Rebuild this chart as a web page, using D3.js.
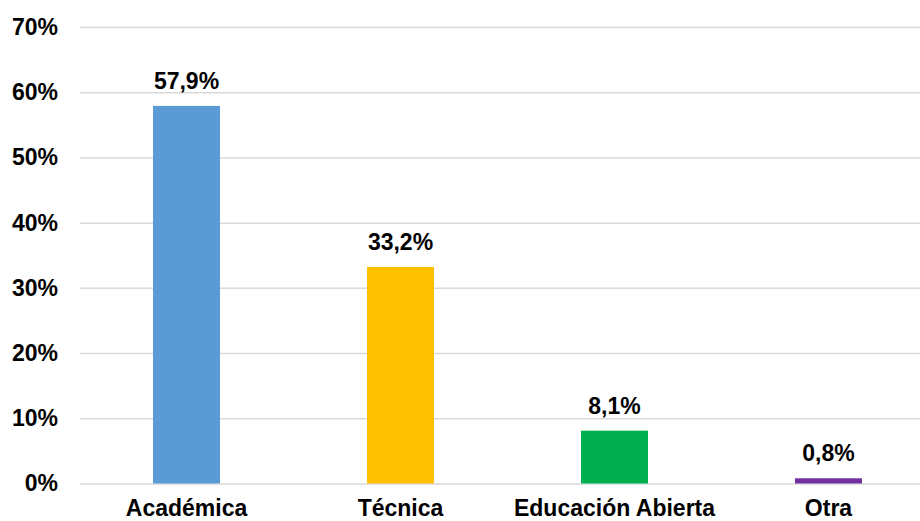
<!DOCTYPE html>
<html>
<head>
<meta charset="utf-8">
<script src="https://cdn.jsdelivr.net/npm/d3@7"></script>
<style>
  body { margin: 0; background: #fff; }
  text { font-family: "Liberation Sans", Arial, sans-serif; font-weight: bold; fill: #000; }
</style>
</head>
<body>
<div id="chart"></div>
<script>
const categories = ['Académica', 'Técnica', 'Educación Abierta', 'Otra'];
const values = [57.9, 33.2, 8.1, 0.8];
const labels = ['57,9%', '33,2%', '8,1%', '0,8%'];
const colors = ['#5B9BD5', '#FFC000', '#00B050', '#7030A0'];
const yTicks = [0, 10, 20, 30, 40, 50, 60, 70];

const width = 920;
const height = 521;
const left = 80, right = 920;
const y0 = 483.5, yTop = 27;

const svg = d3.select('#chart').append('svg')
  .attr('width', width)
  .attr('height', height);

const x = d3.scaleBand()
  .domain(categories)
  .range([79.5, 935.5])
  .paddingInner(0.687)
  .paddingOuter(0.3435);

const y = d3.scaleLinear()
  .domain([0, 70])
  .range([y0, yTop]);

// gridlines + y labels
const yAxis = svg.append('g')
  .attr('transform', `translate(${left},0)`)
  .call(d3.axisLeft(y)
    .tickValues(yTicks)
    .tickSize(-(right - left))
    .tickPadding(22)
    .tickFormat(d => d + '%'));
yAxis.select('.domain').remove();
yAxis.selectAll('.tick line')
  .attr('stroke', '#d9d9d9')
  .attr('stroke-width', 1.5);
yAxis.selectAll('.tick text')
  .style('font-size', '23px')
  .attr('fill', '#000');

// bars
svg.selectAll('rect.bar')
  .data(values)
  .join('rect')
  .attr('class', 'bar')
  .attr('x', (d, i) => x(categories[i]))
  .attr('y', d => y(d))
  .attr('width', x.bandwidth())
  .attr('height', d => y(0) - y(d))
  .attr('fill', (d, i) => colors[i]);

// value labels
svg.selectAll('text.val')
  .data(values)
  .join('text')
  .attr('class', 'val')
  .attr('x', (d, i) => x(categories[i]) + x.bandwidth() / 2)
  .attr('y', d => y(d) - 17)
  .attr('text-anchor', 'middle')
  .style('font-size', '23px')
  .text((d, i) => labels[i]);

// category labels
svg.selectAll('text.cat')
  .data(categories)
  .join('text')
  .attr('class', 'cat')
  .attr('x', d => x(d) + x.bandwidth() / 2)
  .attr('y', 516)
  .attr('text-anchor', 'middle')
  .style('font-size', '23px')
  .text(d => d);
</script>
</body>
</html>
